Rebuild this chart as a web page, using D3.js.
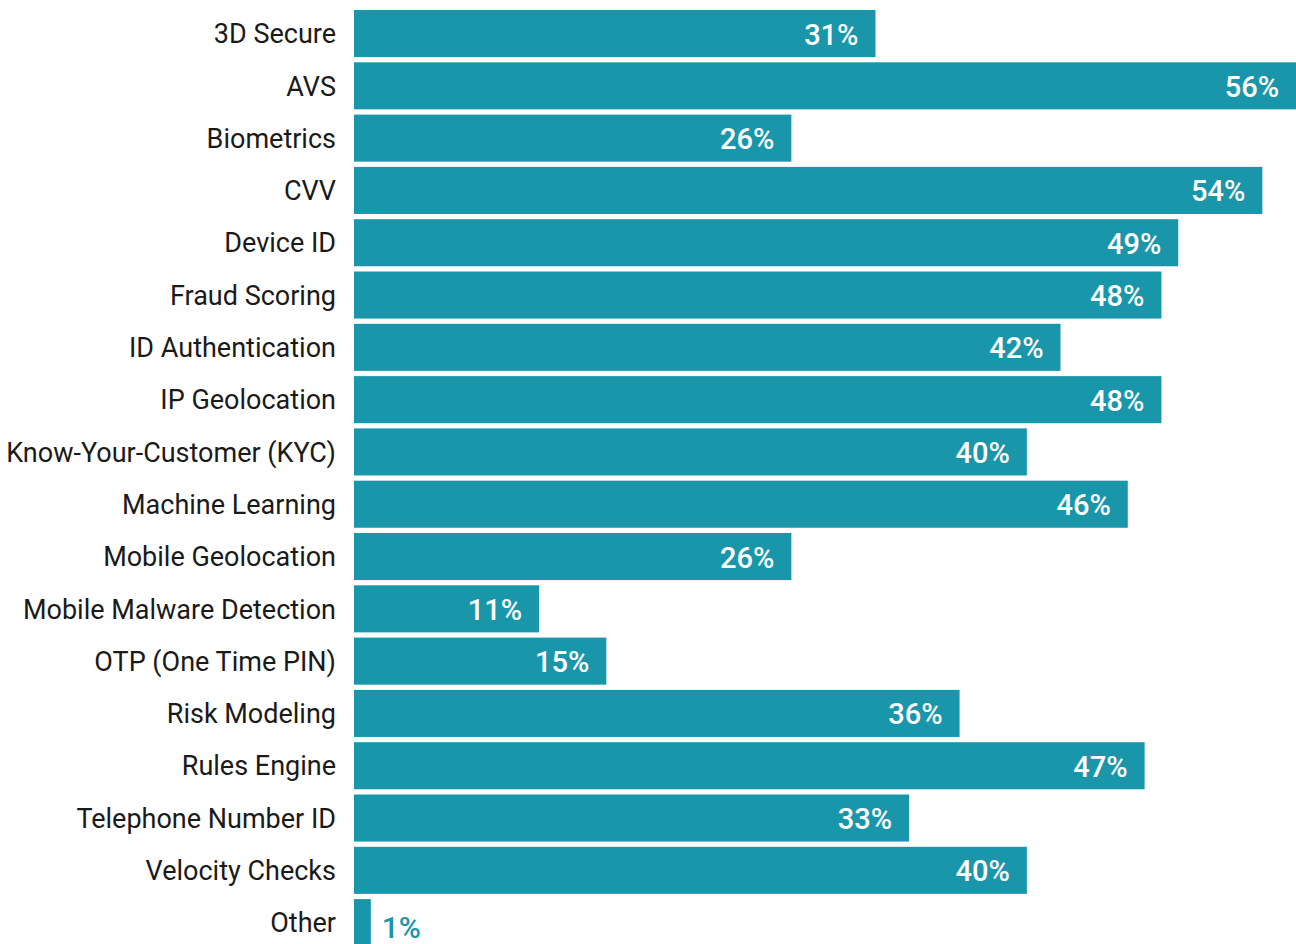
<!DOCTYPE html>
<html>
<head>
<meta charset="utf-8">
<script src="https://cdn.jsdelivr.net/npm/d3@7"></script>
<style>
  html, body { margin: 0; padding: 0; background: #fff; }
  svg { display: block; }
</style>
</head>
<body>
<svg id="chart" width="1296" height="944"></svg>
<script>
// Fraud-prevention tools in use (share of respondents)
const categories = [
  "3D Secure", "AVS", "Biometrics", "CVV", "Device ID", "Fraud Scoring",
  "ID Authentication", "IP Geolocation", "Know-Your-Customer (KYC)",
  "Machine Learning", "Mobile Geolocation", "Mobile Malware Detection",
  "OTP (One Time PIN)", "Risk Modeling", "Rules Engine",
  "Telephone Number ID", "Velocity Checks", "Other"
];
const values = [31, 56, 26, 54, 49, 48, 42, 48, 40, 46, 26, 11, 15, 36, 47, 33, 40, 1];

const W = 1296, H = 944;
const margin = { top: 10, right: 0, bottom: 0, left: 354 };
const barColor = "#1a96ab";
const font = "Roboto, 'DejaVu Sans', sans-serif";

const svg = d3.select("#chart");
const data = categories.map((c, i) => ({ cat: c, val: values[i] }));

const x = d3.scaleLinear().domain([0, 56]).range([margin.left, W - margin.right]);
const y = d3.scaleBand().domain(categories)
  .range([margin.top, margin.top + 52.3 * categories.length])
  .paddingInner(0.1).paddingOuter(0.05).align(0);

// category labels
const yAxis = d3.axisLeft(y).tickSize(0).tickPadding(18);
const gy = svg.append("g").attr("transform", `translate(${margin.left},0)`).call(yAxis);
gy.select(".domain").remove();
gy.selectAll("text")
  .attr("font-family", font)
  .attr("font-size", 27)
  .attr("fill", "#1a1a1a")
  .attr("dy", "0.36em");

// bars
svg.append("g").selectAll("rect").data(data).join("rect")
  .attr("x", x(0))
  .attr("y", d => y(d.cat))
  .attr("width", d => x(d.val) - x(0))
  .attr("height", y.bandwidth())
  .attr("fill", barColor);

// value labels: inside the bar end, or outside in bar colour when the bar is too short
const inside = d => d.val >= 5;
svg.append("g").selectAll("text").data(data).join("text")
  .attr("font-family", font)
  .attr("font-size", d => inside(d) ? 29 : 30)
  .attr("font-weight", 500)
  .attr("x", d => inside(d) ? x(d.val) - 17 : x(d.val) + 11)
  .attr("y", d => y(d.cat) + y.bandwidth() / 2)
  .attr("dy", d => inside(d) ? "0.38em" : "0.5em")
  .attr("text-anchor", d => inside(d) ? "end" : "start")
  .attr("fill", d => inside(d) ? "#ffffff" : barColor)
  .text(d => d.val + "%");
</script>
</body>
</html>
